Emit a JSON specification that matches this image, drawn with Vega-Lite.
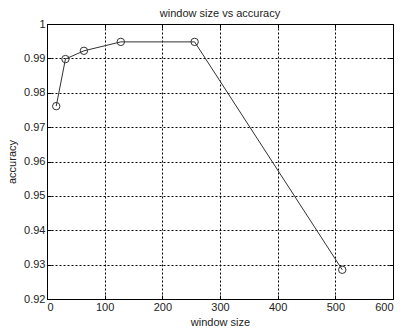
{
  "$schema": "https://vega.github.io/schema/vega-lite/v6.json",
  "width": 346,
  "height": 275,
  "autosize": {"type": "none"},
  "padding": {"left": 47, "top": 24, "right": 10, "bottom": 30},
  "background": "white",
  "config": {
    "font": "Liberation Sans",
    "view": {"stroke": "black", "strokeWidth": 1},
    "axis": {
      "labelFont": "Liberation Sans",
      "titleFont": "Liberation Sans",
      "labelFontSize": 11,
      "titleFontSize": 11,
      "titleFontWeight": "normal",
      "labelColor": "#222",
      "titleColor": "#222",
      "domainColor": "black",
      "tickColor": "black",
      "tickSize": -4,
      "gridColor": "black",
      "gridDash": [2, 2],
      "gridOpacity": 1,
      "gridWidth": 1
    }
  },
  "title": {
    "text": "window size vs accuracy",
    "fontSize": 11,
    "fontWeight": "normal",
    "font": "Liberation Sans",
    "color": "#222",
    "offset": -1
  },
  "data": {
    "values": [
      {"window": 16, "accuracy": 0.9761},
      {"window": 32, "accuracy": 0.9898},
      {"window": 64, "accuracy": 0.9922},
      {"window": 128, "accuracy": 0.9948},
      {"window": 256, "accuracy": 0.9948},
      {"window": 512, "accuracy": 0.9285}
    ]
  },
  "resolve": {"axis": {"x": "independent", "y": "independent"}},
  "layer": [
    {
      "mark": {"type": "line", "color": "#333", "strokeWidth": 1},
      "encoding": {
        "x": {
          "field": "window", "type": "quantitative",
          "scale": {"domain": [0, 600], "nice": false},
          "axis": {"values": [0, 100, 200, 300, 400, 500, 600], "title": "window size", "labelPadding": 6, "titlePadding": 4, "grid": true}
        },
        "y": {
          "field": "accuracy", "type": "quantitative",
          "scale": {"domain": [0.92, 1], "nice": false, "zero": false},
          "axis": {"values": [0.92, 0.93, 0.94, 0.95, 0.96, 0.97, 0.98, 0.99, 1], "format": "~g", "title": "accuracy", "labelPadding": 6, "titlePadding": 6, "grid": true}
        }
      }
    },
    {
      "mark": {"type": "point", "shape": "circle", "filled": false, "color": "#333", "size": 55, "strokeWidth": 1, "opacity": 1},
      "encoding": {
        "x": {
          "field": "window", "type": "quantitative",
          "axis": {"orient": "top", "values": [0, 100, 200, 300, 400, 500, 600], "labels": false, "title": null, "domain": true, "grid": false}
        },
        "y": {
          "field": "accuracy", "type": "quantitative",
          "axis": {"orient": "right", "values": [0.92, 0.93, 0.94, 0.95, 0.96, 0.97, 0.98, 0.99, 1], "labels": false, "title": null, "domain": true, "grid": false}
        }
      }
    }
  ]
}
